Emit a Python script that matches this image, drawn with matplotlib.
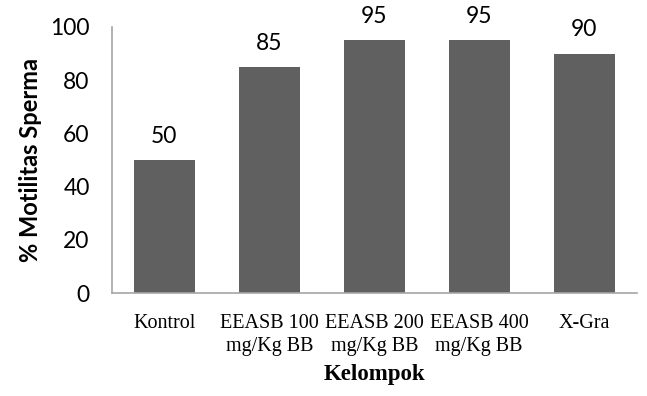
import matplotlib.pyplot as plt

categories = ["Kontrol", "EEASB 100\nmg/Kg BB", "EEASB 200\nmg/Kg BB", "EEASB 400\nmg/Kg BB", "X-Gra"]
values = [50, 85, 95, 95, 90]
yticks = [0, 20, 40, 60, 80, 100]

fig = plt.figure(figsize=(6.47, 3.96), dpi=100)
ax = fig.add_axes([0.173, 0.260, 0.811, 0.672])

x = range(len(categories))
bars = ax.bar(x, values, width=0.58, color="#606060")

for xi, v in zip(x, values):
    ax.text(xi, v + 5, str(v), ha="center", va="bottom", fontsize=16.5,
            family="Lato", clip_on=False)

ax.set_xlim(-0.5, len(categories) - 0.5)
ax.set_ylim(0, 100)
ax.set_yticks(yticks)
ax.set_yticklabels([str(t) for t in yticks], family="Lato", fontsize=16.5)
ax.set_xticks(list(x))
ax.set_xticklabels(categories, family="Liberation Serif", fontsize=14.5, linespacing=1.3)
ax.tick_params(axis="y", length=0, pad=16)
ax.tick_params(axis="x", length=0, pad=15)

for s in ["top", "right"]:
    ax.spines[s].set_visible(False)
for s in ["left", "bottom"]:
    ax.spines[s].set_color("#a6a6a6")
    ax.spines[s].set_linewidth(1.2)

ax.set_ylabel("% Motilitas Sperma", family="Lato", fontweight="bold", fontsize=17, labelpad=6)
ax.set_xlabel("Kelompok", family="Liberation Serif", fontweight="bold", fontsize=16.5, labelpad=6)

plt.savefig("out.png", dpi=100)
